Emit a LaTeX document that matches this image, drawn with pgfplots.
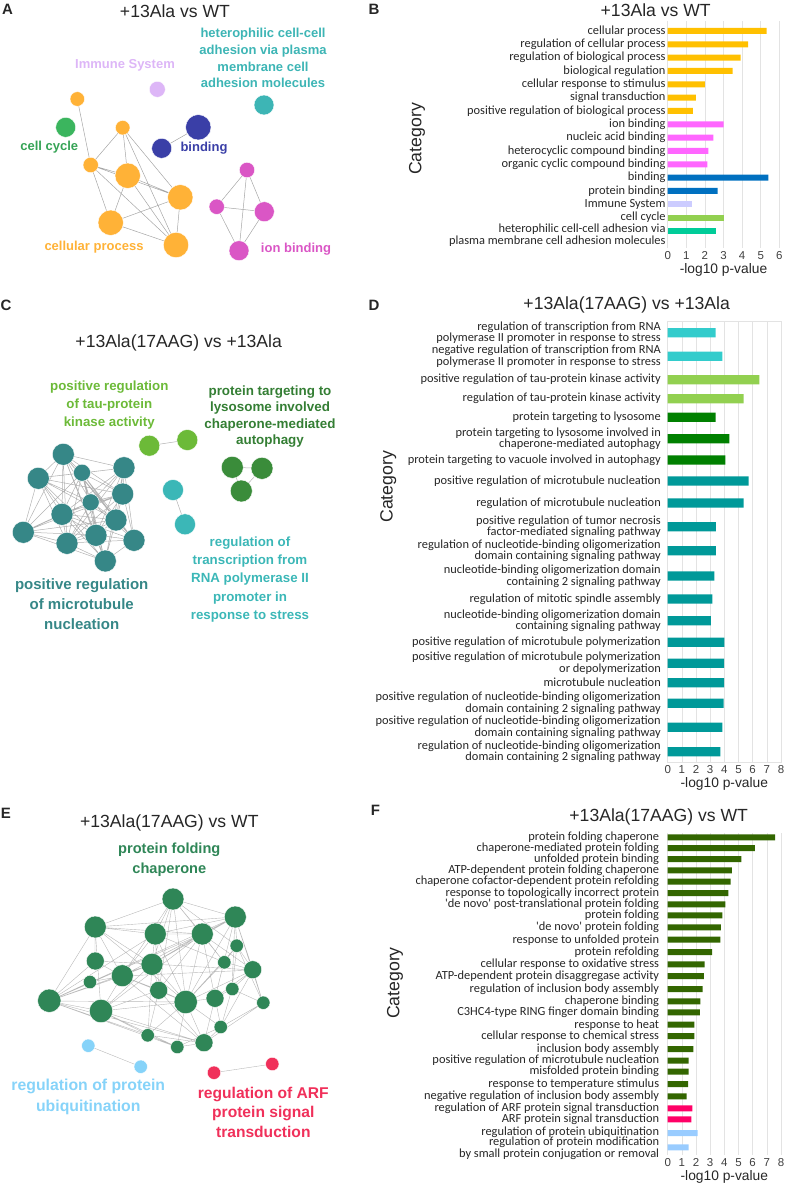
\documentclass[border=0pt]{standalone}
\usepackage{fontspec}
\setmainfont{Liberation Sans}
\newfontfamily\calibri{Carlito}
\usepackage{pgfplots}
\pgfplotsset{compat=1.18}

% bar colours
\definecolor{bOrange}{HTML}{FFC000}
\definecolor{bPink}{HTML}{FF66FF}
\definecolor{bBlue}{HTML}{0070C0}
\definecolor{bLav}{HTML}{CCCCFF}
\definecolor{bLGreen}{HTML}{92D050}
\definecolor{bTealG}{HTML}{00CC99}
\definecolor{bCyan}{HTML}{33CCCC}
\definecolor{bGreen}{HTML}{008000}
\definecolor{bTeal}{HTML}{009999}
\definecolor{bOlive}{HTML}{336600}
\definecolor{bRed}{HTML}{FF0066}
\definecolor{bLBlue}{HTML}{99CCFF}
% network colours
\definecolor{nOrange}{HTML}{FFB237}
\definecolor{nLav}{HTML}{DDB6F7}
\definecolor{nTeal}{HTML}{3DB5B5}
\definecolor{nGreen}{HTML}{3BB55E}
\definecolor{nBlue}{HTML}{3A3FA7}
\definecolor{nMag}{HTML}{DA56C5}
\definecolor{cLGreen}{HTML}{6CBA38}
\definecolor{cDGreen}{HTML}{3A8C3A}
\definecolor{cCyan}{HTML}{3BB7B7}
\definecolor{cTeal}{HTML}{368787}
\definecolor{eGreen}{HTML}{2F8657}
\definecolor{eLBlue}{HTML}{86D3F9}
\definecolor{eRed}{HTML}{F0305A}
\definecolor{txt}{HTML}{262626}
\definecolor{tick}{HTML}{404040}
\definecolor{gridc}{HTML}{E3E3E3}

\pgfplotsset{
  netnode/.style={scatter, only marks, mark=*, point meta={\thisrow{r}},
    scatter/use mapped color={draw=white, fill=#1, line width=0.4pt},
    visualization depends on={\thisrow{r}\as\rad},
    scatter/@pre marker code/.append style={/tikz/mark size=\rad}},
  netedge/.style={draw=#1, line width=0.5pt, mark=none},
  barax/.style={xbar, scale only axis, enlargelimits=false, y dir=reverse,
    bar shift=0pt, xmajorgrids, major grid style={draw=gridc, line width=0.6pt},
    major tick length=0pt,
    /pgf/number format/assume math mode=true,
    xticklabel style={font=\fontsize{11.5}{12}\selectfont, text=tick},
    yticklabel style={font=\calibri\fontsize{12.4}{9.4}\selectfont, text=txt, align=right, inner sep=0pt},
    xlabel={-log10 p-value},
    xlabel style={font=\fontsize{13.8}{14}\selectfont, text=txt, at={(axis description cs:0.5,0)}, anchor=center, yshift=-22pt},
    ylabel={Category},
    ylabel style={font=\fontsize{17.7}{18}\selectfont, text=txt, anchor=center}}
}

\begin{document}
\begin{tikzpicture}[x=1pt,y=1pt]
\path[use as bounding box] (0pt,0pt) rectangle (785pt,1186pt);

%================ canvas with networks and titles =================
\begin{axis}[at={(0pt,0pt)}, anchor=south west, scale only axis, width=785pt, height=1186pt,
  xmin=0, xmax=785, ymin=0, ymax=1186, y dir=reverse, axis lines=none, clip=false,
  unbounded coords=jump]

% ---------- panel A ----------
\addplot[netedge=gray!70] coordinates {
 (77.3,99) (90.7,165) (nan,nan)
 (90.7,165) (127.7,175.7) (nan,nan)
 (90.7,165) (180.3,197.3) (nan,nan)
 (90.7,165) (176,245) (nan,nan)
 (90.7,165) (110.7,222.7) (nan,nan)
 (122.7,127.7) (90.7,165) (nan,nan)
 (122.7,127.7) (127.7,175.7) (nan,nan)
 (122.7,127.7) (180.3,197.3) (nan,nan)
 (122.7,127.7) (176,245) (nan,nan)
 (127.7,175.7) (180.3,197.3) (nan,nan)
 (127.7,175.7) (176,245) (nan,nan)
 (127.7,175.7) (110.7,222.7) (nan,nan)
 (180.3,197.3) (110.7,222.7) (nan,nan)
 (180.3,197.3) (176,245) (nan,nan)
 (110.7,222.7) (176,245) (nan,nan)
 (198.3,127.3) (161.7,148.3) (nan,nan)
 (247,170) (216.7,206.7) (nan,nan)
 (247,170) (264.3,211.7) (nan,nan)
 (247,170) (239,250.7) (nan,nan)
 (216.7,206.7) (264.3,211.7) (nan,nan)
 (216.7,206.7) (239,250.7) (nan,nan)
 (264.3,211.7) (239,250.7)
};
\addplot[netnode=nOrange] table {
x y r
77.3 99 7.3
122.7 127.7 7.3
90.7 165 7.7
127.7 175.7 12.7
180.3 197.3 12.7
110.7 222.7 12.7
176 245 12.7
};
\addplot[netnode=nLav] table {
x y r
157.3 89.3 8
};
\addplot[netnode=nTeal] table {
x y r
264 105 10
};
\addplot[netnode=nGreen] table {
x y r
65.7 127.3 10
};
\addplot[netnode=nBlue] table {
x y r
198.3 127.3 12.7
161.7 148.3 10
};
\addplot[netnode=nMag] table {
x y r
247 170 7.7
216.7 206.7 7.7
264.3 211.7 10
239 250.7 10
};
\node[font=\fontsize{17.6}{18}\selectfont, text=txt] at (axis cs:175,11.7) {+13Ala vs WT};
\node[font=\bfseries\fontsize{13}{16.5}\selectfont, text=nLav] at (axis cs:125,65.7) {Immune System};
\node[font=\bfseries\fontsize{13}{16.7}\selectfont, text=nTeal, align=center] at (axis cs:263,58.3) {heterophilic cell-cell\\adhesion via plasma\\membrane cell\\adhesion molecules};
\node[font=\bfseries\fontsize{13}{16}\selectfont, text=nGreen!90!black] at (axis cs:49.3,147.3) {cell cycle};
\node[font=\bfseries\fontsize{13}{16}\selectfont, text=nBlue] at (axis cs:204,148.3) {binding};
\node[font=\bfseries\fontsize{13}{16}\selectfont, text=nOrange] at (axis cs:94,247.3) {cellular process};
\node[font=\bfseries\fontsize{13}{16}\selectfont, text=nMag] at (axis cs:296,249.3) {ion binding};

% ---------- panel C ----------
\addplot[netedge=gray!60] coordinates {
 (63,454) (38,478) (nan,nan) (63,454) (82,473) (nan,nan) (63,454) (124,468) (nan,nan)
 (63,454) (123,494) (nan,nan) (63,454) (91,502) (nan,nan) (63,454) (62,514) (nan,nan)
 (63,454) (116,520) (nan,nan) (63,454) (23,532) (nan,nan) (63,454) (96,535) (nan,nan)
 (63,454) (67,543) (nan,nan) (63,454) (134,540) (nan,nan) (63,454) (105,561) (nan,nan)
 (38,478) (82,473) (nan,nan) (38,478) (124,468) (nan,nan) (38,478) (123,494) (nan,nan)
 (38,478) (91,502) (nan,nan) (38,478) (62,514) (nan,nan) (38,478) (116,520) (nan,nan)
 (38,478) (23,532) (nan,nan) (38,478) (96,535) (nan,nan) (38,478) (67,543) (nan,nan)
 (38,478) (105,561) (nan,nan)
 (82,473) (124,468) (nan,nan) (82,473) (123,494) (nan,nan) (82,473) (91,502) (nan,nan)
 (82,473) (62,514) (nan,nan) (82,473) (116,520) (nan,nan) (82,473) (23,532) (nan,nan)
 (82,473) (96,535) (nan,nan) (82,473) (67,543) (nan,nan) (82,473) (134,540) (nan,nan)
 (82,473) (105,561) (nan,nan)
 (124,468) (123,494) (nan,nan) (124,468) (91,502) (nan,nan) (124,468) (62,514) (nan,nan)
 (124,468) (116,520) (nan,nan) (124,468) (96,535) (nan,nan) (124,468) (67,543) (nan,nan)
 (124,468) (134,540) (nan,nan) (124,468) (105,561) (nan,nan)
 (123,494) (91,502) (nan,nan) (123,494) (62,514) (nan,nan) (123,494) (116,520) (nan,nan)
 (123,494) (23,532) (nan,nan) (123,494) (96,535) (nan,nan) (123,494) (67,543) (nan,nan)
 (123,494) (134,540) (nan,nan) (123,494) (105,561) (nan,nan)
 (91,502) (62,514) (nan,nan) (91,502) (116,520) (nan,nan) (91,502) (23,532) (nan,nan)
 (91,502) (96,535) (nan,nan) (91,502) (67,543) (nan,nan) (91,502) (134,540) (nan,nan)
 (91,502) (105,561) (nan,nan)
 (62,514) (116,520) (nan,nan) (62,514) (23,532) (nan,nan) (62,514) (96,535) (nan,nan)
 (62,514) (67,543) (nan,nan) (62,514) (134,540) (nan,nan) (62,514) (105,561) (nan,nan)
 (116,520) (23,532) (nan,nan) (116,520) (96,535) (nan,nan) (116,520) (67,543) (nan,nan)
 (116,520) (134,540) (nan,nan) (116,520) (105,561) (nan,nan)
 (23,532) (96,535) (nan,nan) (23,532) (67,543) (nan,nan) (23,532) (105,561) (nan,nan)
 (96,535) (67,543) (nan,nan) (96,535) (134,540) (nan,nan) (96,535) (105,561) (nan,nan)
 (67,543) (134,540) (nan,nan) (67,543) (105,561) (nan,nan)
 (134,540) (105,561) (nan,nan)
 (149.3,445.7) (187.3,440) (nan,nan)
 (173,490) (185,524.3) (nan,nan)
 (232.3,467.3) (262,468.3) (241.3,491) (232.3,467.3)
};
\addplot[netnode=cTeal] table {
x y r
63.3 454.3 11
38.3 478.3 11
82 472.7 8.5
124 467.7 11
122.7 494 11
90.7 502.3 8.5
62 514.3 11
116 520 11
23.3 532.3 11
96 535.3 11
67 543.3 11
134 540.3 11
105.3 561 11
};
\addplot[netnode=cLGreen] table {
x y r
149.3 445.7 10.5
187.3 440 10.5
};
\addplot[netnode=cDGreen] table {
x y r
232.3 467.3 11
262 468.3 11
241.3 491 11
};
\addplot[netnode=cCyan] table {
x y r
173 490 10.5
185 524.3 10.5
};
\node[font=\fontsize{17.6}{18}\selectfont, text=txt] at (axis cs:178.7,343.3) {+13Ala(17AAG) vs +13Ala};
\node[font=\bfseries\fontsize{13.3}{18}\selectfont, text=cLGreen, align=center] at (axis cs:109.3,405.3) {positive regulation\\of tau-protein\\kinase activity};
\node[font=\bfseries\fontsize{13.4}{16.3}\selectfont, text=cDGreen!90!black, align=center] at (axis cs:270,416.5) {protein targeting to\\lysosome involved\\chaperone-mediated\\autophagy};
\node[font=\bfseries\fontsize{15}{20}\selectfont, text=cTeal, align=center] at (axis cs:81.7,604) {positive regulation\\of microtubule\\nucleation};
\node[font=\bfseries\fontsize{13.3}{18.1}\selectfont, text=cCyan, align=center] at (axis cs:250,579.5) {regulation of\\transcription from\\RNA polymerase II\\promoter in\\response to stress};

% ---------- panel E ----------
\addplot[netedge=gray!55, line width=0.4pt] coordinates {
 (173,899) (235,917) (nan,nan) (173,899) (95,927) (nan,nan) (173,899) (155,934) (nan,nan)
 (173,899) (202,934) (nan,nan) (173,899) (152,964) (nan,nan) (173,899) (122,976) (nan,nan)
 (173,899) (186,1002) (nan,nan) (173,899) (224,962) (nan,nan) (173,899) (159,990) (nan,nan)
 (235,917) (202,934) (nan,nan) (235,917) (237,946) (nan,nan) (235,917) (253,970) (nan,nan)
 (235,917) (155,934) (nan,nan) (235,917) (152,964) (nan,nan) (235,917) (122,976) (nan,nan)
 (235,917) (232,989) (nan,nan) (235,917) (186,1002) (nan,nan) (235,917) (215,998) (nan,nan)
 (95,927) (95,961) (nan,nan) (95,927) (49,1001) (nan,nan) (95,927) (155,934) (nan,nan)
 (95,927) (202,934) (nan,nan) (95,927) (122,976) (nan,nan) (95,927) (101,1011) (nan,nan)
 (95,927) (186,1002) (nan,nan) (95,927) (235,917) (nan,nan)
 (155,934) (202,934) (nan,nan) (155,934) (152,964) (nan,nan) (155,934) (122,976) (nan,nan)
 (155,934) (159,990) (nan,nan) (155,934) (186,1002) (nan,nan) (155,934) (49,1001) (nan,nan)
 (155,934) (224,962) (nan,nan)
 (202,934) (224,962) (nan,nan) (202,934) (152,964) (nan,nan) (202,934) (122,976) (nan,nan)
 (202,934) (186,1002) (nan,nan) (202,934) (215,998) (nan,nan) (202,934) (253,970) (nan,nan)
 (202,934) (101,1011) (nan,nan) (202,934) (159,990) (nan,nan)
 (237,946) (253,970) (nan,nan) (237,946) (224,962) (nan,nan) (237,946) (186,1002) (nan,nan)
 (237,946) (232,989) (nan,nan)
 (95,961) (122,976) (nan,nan) (95,961) (49,1001) (nan,nan) (95,961) (152,964) (nan,nan)
 (152,964) (122,976) (nan,nan) (152,964) (159,990) (nan,nan) (152,964) (186,1002) (nan,nan)
 (152,964) (101,1011) (nan,nan) (152,964) (253,970) (nan,nan) (152,964) (148,1035) (nan,nan)
 (224,962) (253,970) (nan,nan) (224,962) (215,998) (nan,nan) (224,962) (186,1002) (nan,nan)
 (253,970) (263,1003) (nan,nan) (253,970) (232,989) (nan,nan) (253,970) (186,1002) (nan,nan)
 (253,970) (215,998) (nan,nan) (253,970) (221,1027) (nan,nan)
 (90,982) (49,1001) (nan,nan) (90,982) (122,976) (nan,nan)
 (122,976) (159,990) (nan,nan) (122,976) (101,1011) (nan,nan) (122,976) (186,1002) (nan,nan)
 (122,976) (204,1043) (nan,nan) (122,976) (253,970) (nan,nan) (122,976) (49,1001) (nan,nan)
 (159,990) (186,1002) (nan,nan) (159,990) (148,1035) (nan,nan) (159,990) (204,1043) (nan,nan)
 (159,990) (101,1011) (nan,nan)
 (232,989) (215,998) (nan,nan) (232,989) (263,1003) (nan,nan) (232,989) (221,1027) (nan,nan)
 (49,1001) (101,1011) (nan,nan) (49,1001) (148,1035) (nan,nan) (49,1001) (186,1002) (nan,nan)
 (49,1001) (204,1043) (nan,nan) (49,1001) (177,1047) (nan,nan) (49,1001) (152,964) (nan,nan)
 (49,1001) (202,934) (nan,nan) (49,1001) (235,917) (nan,nan)
 (101,1011) (148,1035) (nan,nan) (101,1011) (186,1002) (nan,nan) (101,1011) (177,1047) (nan,nan)
 (101,1011) (204,1043) (nan,nan)
 (186,1002) (215,998) (nan,nan) (186,1002) (204,1043) (nan,nan) (186,1002) (177,1047) (nan,nan)
 (186,1002) (221,1027) (nan,nan) (186,1002) (148,1035) (nan,nan)
 (215,998) (221,1027) (nan,nan) (215,998) (204,1043) (nan,nan)
 (263,1003) (221,1027) (nan,nan) (263,1003) (204,1043) (nan,nan)
 (221,1027) (204,1043) (nan,nan) (221,1027) (177,1047) (nan,nan)
 (148,1035) (177,1047) (nan,nan) (148,1035) (204,1043) (nan,nan)
 (204,1043) (177,1047) (nan,nan)
 (173,899) (237,946) (nan,nan) (235,917) (263,1003) (nan,nan) (95,927) (152,964) (nan,nan)
 (237,946) (263,1003) (nan,nan)
 (88.3,1045.7) (140.7,1066.7) (nan,nan)
 (272.3,1064) (214,1072.7)
};
\addplot[netnode=eGreen] table {
x y r
173 899 11
235.3 917 11
95.3 927 11
155.3 934 11
202.3 934 11
236.7 945.7 6.7
95.3 961 9
152 964.3 11
224.3 962.3 6.7
252.7 969.7 9
90 982 6.7
122.3 975.7 11
158.7 990.3 9
232.3 989 6.7
49.3 1000.7 11.7
101 1011 11.7
185.7 1002 11.7
215 998.3 9
263.3 1002.7 6.7
220.7 1027 6.7
147.7 1035.3 6.7
204 1042.7 9
177.3 1047 6.7
};
\addplot[netnode=eLBlue] table {
x y r
88.3 1045.7 6.7
140.7 1066.7 6.7
};
\addplot[netnode=eRed] table {
x y r
214 1072.7 6.7
272.3 1064 6.7
};
\node[font=\fontsize{17.6}{18}\selectfont, text=txt] at (axis cs:169.3,822.7) {+13Ala(17AAG) vs WT};
\node[font=\bfseries\fontsize{14.6}{20}\selectfont, text=eGreen, align=center] at (axis cs:169.3,860) {protein folding\\chaperone};
\node[font=\bfseries\fontsize{15.8}{20.6}\selectfont, text=eLBlue, align=center] at (axis cs:88.3,1097) {regulation of protein\\ubiquitination};
\node[font=\bfseries\fontsize{15.6}{19.5}\selectfont, text=eRed, align=center] at (axis cs:263.3,1112.2) {regulation of ARF\\protein signal\\transduction};

% ---------- bar chart titles and panel letters ----------
\node[font=\fontsize{17.6}{18}\selectfont, text=txt] at (axis cs:655.7,10.5) {+13Ala vs WT};
\node[font=\fontsize{17.6}{18}\selectfont, text=txt] at (axis cs:626.7,305) {+13Ala(17AAG) vs +13Ala};
\node[font=\fontsize{17.6}{18}\selectfont, text=txt] at (axis cs:658.7,817.3) {+13Ala(17AAG) vs WT};
\node[font=\bfseries\fontsize{15}{16}\selectfont, text=txt] at (axis cs:7.5,9.5) {A};
\node[font=\bfseries\fontsize{15}{16}\selectfont, text=txt] at (axis cs:374,9.5) {B};
\node[font=\bfseries\fontsize{15}{16}\selectfont, text=txt] at (axis cs:6,305) {C};
\node[font=\bfseries\fontsize{15}{16}\selectfont, text=txt] at (axis cs:374,305) {D};
\node[font=\bfseries\fontsize{15}{16}\selectfont, text=txt] at (axis cs:6,813.5) {E};
\node[font=\bfseries\fontsize{15}{16}\selectfont, text=txt] at (axis cs:375.5,810) {F};
\end{axis}

%================ panel B =================
\begin{axis}[barax, at={(667.7pt,1165pt)}, anchor=north west, width=111.6pt, height=227pt,
  xmin=0, xmax=6, xtick={0,...,6}, ymin=21, ymax=248, bar width=6pt,
  axis line style={draw=none},
  ylabel style={at={(axis description cs:-2.246,0.48)}},
  yticklabel style={xshift=-2pt},
  ytick={31,44.33,57.67,71,84.33,97.67,111,124.33,137.67,151,164.33,177.67,191,204.33,217.67,235.5},
  yticklabels={cellular process, regulation of cellular process, regulation of biological process,
   biological regulation, cellular response to stimulus, signal transduction,
   positive regulation of biological process, ion binding, nucleic acid binding,
   heterocyclic compound binding, organic cyclic compound binding, binding, protein binding,
   Immune System, cell cycle, {heterophilic cell-cell adhesion via\\plasma membrane cell adhesion molecules}}]
\addplot[fill=bOrange, draw=none, bar shift=0pt] coordinates {(5.32,31) (4.33,44.33) (3.92,57.67) (3.49,71) (2.0,84.33) (1.52,97.67) (1.36,111)};
\addplot[fill=bPink, draw=none, bar shift=0pt] coordinates {(3.01,124.33) (2.45,137.67) (2.19,151) (2.13,164.33)};
\addplot[fill=bBlue, draw=none, bar shift=0pt] coordinates {(5.41,177.67) (2.68,191)};
\addplot[fill=bLav, draw=none, bar shift=0pt] coordinates {(1.33,204.33)};
\addplot[fill=bLGreen, draw=none, bar shift=0pt] coordinates {(3.05,217.67)};
\addplot[fill=bTealG, draw=none, bar shift=0pt] coordinates {(2.61,231)};
\end{axis}

%================ panel D =================
\begin{axis}[barax, at={(667.7pt,865pt)}, anchor=north west, width=113.3pt, height=441pt,
  xmin=0, xmax=8, xtick={0,...,8}, ymin=321, ymax=762, bar width=9.2pt,
  axis line style={draw=gridc, line width=0.8pt},
  ylabel style={at={(axis description cs:-2.466,0.624)}},
  yticklabel style={xshift=-6.7pt},
  ytick={332.7,356.3,379.7,398.7,417.3,438.7,460,481,503,526.7,550.7,576,599,620.7,642.3,663.3,682.7,703.3,727.3,751.7},
  yticklabels={{regulation of transcription from RNA\\polymerase II promoter in response to stress},
   {negative regulation of transcription from RNA\\polymerase II promoter in response to stress},
   positive regulation of tau-protein kinase activity,
   regulation of tau-protein kinase activity,
   protein targeting to lysosome,
   {protein targeting to lysosome involved in\\chaperone-mediated autophagy},
   protein targeting to vacuole involved in autophagy,
   positive regulation of microtubule nucleation,
   regulation of microtubule nucleation,
   {positive regulation of tumor necrosis\\factor-mediated signaling pathway},
   {regulation of nucleotide-binding oligomerization\\domain containing signaling pathway},
   {nucleotide-binding oligomerization domain\\containing 2 signaling pathway},
   regulation of mitotic spindle assembly,
   {nucleotide-binding oligomerization domain\\containing signaling pathway},
   positive regulation of microtubule polymerization,
   {positive regulation of microtubule polymerization\\or depolymerization},
   microtubule nucleation,
   {positive regulation of nucleotide-binding oligomerization\\domain containing 2 signaling pathway},
   {positive regulation of nucleotide-binding oligomerization\\domain containing signaling pathway},
   {regulation of nucleotide-binding oligomerization\\domain containing 2 signaling pathway}}]
\addplot[fill=bCyan, draw=none, bar shift=0pt] coordinates {(3.39,332.7) (3.86,356.3)};
\addplot[fill=bLGreen, draw=none, bar shift=0pt] coordinates {(6.47,379.7) (5.36,398.7)};
\addplot[fill=bGreen, draw=none, bar shift=0pt] coordinates {(3.39,417.3) (4.35,438.7) (4.07,460)};
\addplot[fill=bTeal, draw=none, bar shift=0pt] coordinates {(5.72,481) (5.36,503) (3.41,526.7) (3.41,550.7) (3.29,576) (3.15,599) (3.04,620.7) (4.0,642.3) (3.98,663.3) (3.98,682.7) (3.95,703.3) (3.86,727.3) (3.72,751.7)};
\end{axis}

%================ panel F =================
\begin{axis}[barax, at={(667.7pt,353pt)}, anchor=north west, width=113.3pt, height=322pt,
  xmin=0, xmax=8, xtick={0,...,8}, ymin=833, ymax=1155, bar width=6pt,
  axis line style={draw=none},
  ylabel style={at={(axis description cs:-2.407,0.534)}},
  yticklabel style={xshift=-8.4pt},
  ytick={837.3,848,859,870.3,881.7,893,904.3,915.3,927.3,939.7,952,964.3,976,989,1001.3,1012.3,1024.7,1036,1049,1060.7,1071.7,1084,1096.3,1108.3,1119.3,1132.5,1148.6},
  yticklabels={protein folding chaperone, chaperone-mediated protein folding, unfolded protein binding,
   ATP-dependent protein folding chaperone, chaperone cofactor-dependent protein refolding,
   response to topologically incorrect protein,
   \textquotesingle de novo\textquotesingle{} post-translational protein folding,
   protein folding, \textquotesingle de novo\textquotesingle{} protein folding,
   response to unfolded protein, protein refolding, cellular response to oxidative stress,
   ATP-dependent protein disaggregase activity, regulation of inclusion body assembly,
   chaperone binding, C3HC4-type RING finger domain binding, response to heat,
   cellular response to chemical stress, inclusion body assembly,
   positive regulation of microtubule nucleation, misfolded protein binding,
   response to temperature stimulus, negative regulation of inclusion body assembly,
   regulation of ARF protein signal transduction, ARF protein signal transduction,
   regulation of protein ubiquitination,
   {regulation of protein modification\\by small protein conjugation or removal}}]
\addplot[fill=bOlive, draw=none, bar shift=0pt] coordinates {(7.58,837.3) (6.16,848) (5.2,859) (4.54,870.3) (4.45,881.7) (4.28,893) (4.07,904.3) (3.86,915.3) (3.76,927.3) (3.72,939.7) (3.13,952) (2.61,964.3) (2.56,976) (2.47,989) (2.31,1001.3) (2.28,1012.3) (1.88,1024.7) (1.88,1036) (1.81,1049) (1.48,1060.7) (1.48,1071.7) (1.44,1084) (1.34,1096.3)};
\addplot[fill=bRed, draw=none, bar shift=0pt] coordinates {(1.74,1108.3) (1.67,1119.3)};
\addplot[fill=bLBlue, draw=none, bar shift=0pt] coordinates {(2.12,1133) (1.48,1147.3)};
\end{axis}
\end{tikzpicture}
\end{document}
